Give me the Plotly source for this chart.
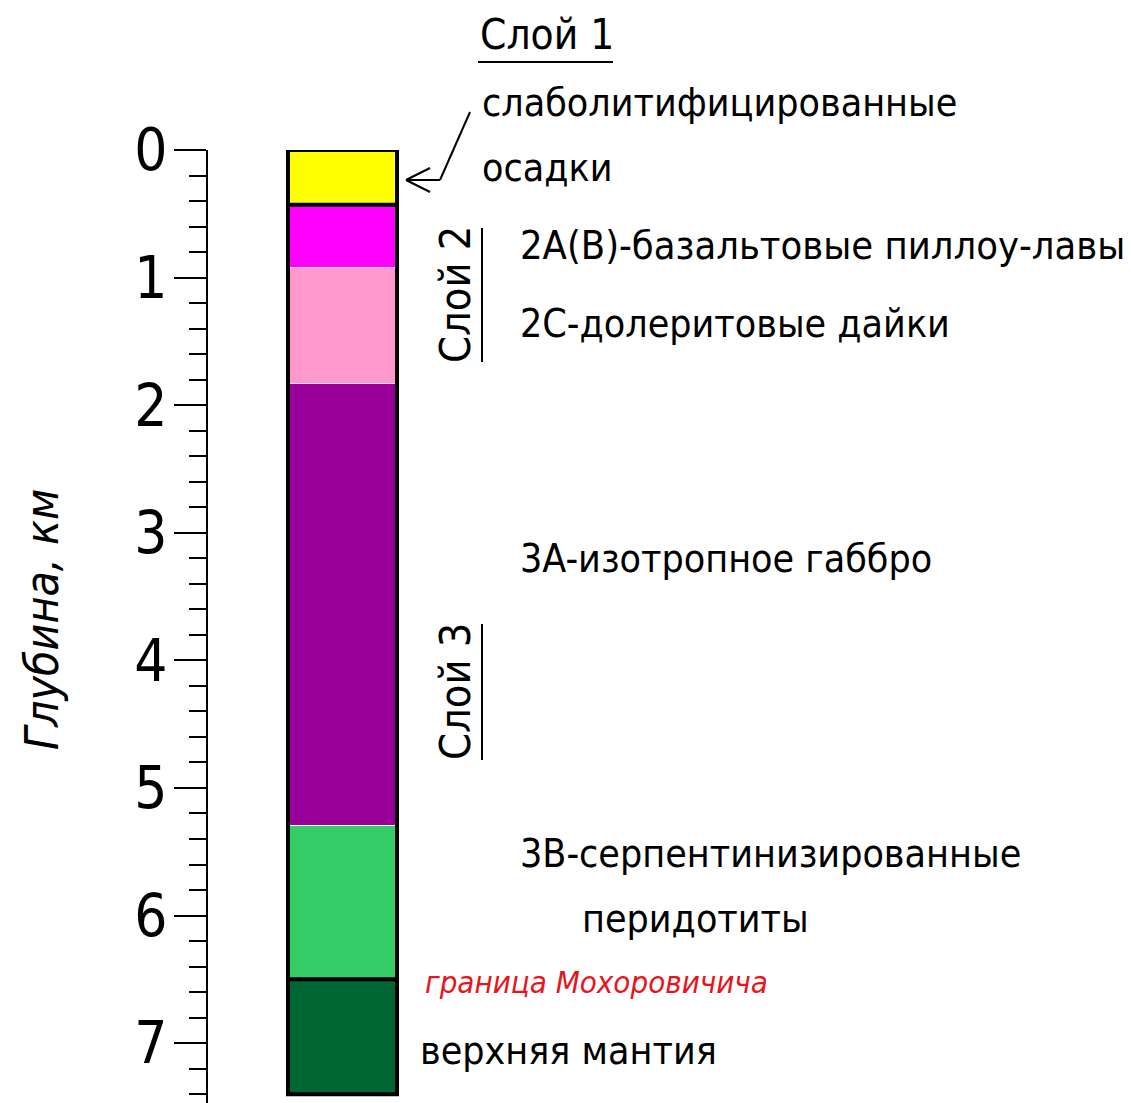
import plotly.graph_objects as go

# ---------------- data ----------------
layer_ids = ["Слой 1", "2A(B)", "2C", "3A", "3B", "мантия"]
layer_tops = [0.0, 0.43, 0.925, 1.83, 5.3, 6.5]
layer_bottoms = [0.43, 0.925, 1.83, 5.3, 6.5, 7.4]
layer_colors = ["#FFFF00", "#FF00FF", "#FF99CC", "#990099", "#33CC66", "#006633"]
black_boundaries = [0.43, 6.5]          # bottom of layer 1, Moho
tick_vals = [0, 1, 2, 3, 4, 5, 6, 7]
tick_text = ["0", "1", "2", "3", "4", "5", "6", "7"]
depth_max = 7.469

# page body has an 8px margin -> compensate
OFF = 8
W, H = 1131 - OFF, 1103 - OFF
L, T = 208 - OFF, 150 - OFF
PW, PH = W - L, H - T

FONT = "Liberation Sans Narrow, Arial Narrow, DejaVu Sans Condensed, sans-serif"


def px(x):
    return (x - OFF - L) / PW


def py(y):
    return 1 - (y - OFF - T) / PH


fig = go.Figure()

# layers as bars
for name, top, bot, col in zip(layer_ids, layer_tops, layer_bottoms, layer_colors):
    fig.add_trace(go.Bar(
        x=[0], y=[bot - top], base=[top], width=1,
        marker=dict(color=col, line=dict(color="rgba(255,255,255,0.8)", width=1)),
        name=name, showlegend=False, hoverinfo="skip",
    ))

# black boundaries
for b in black_boundaries:
    fig.add_trace(go.Scatter(x=[-0.5, 0.5], y=[b, b], mode="lines",
                             line=dict(color="black", width=4),
                             showlegend=False, hoverinfo="skip", cliponaxis=False))

# outline of column
top0, bot0 = layer_tops[0], layer_bottoms[-1]
fig.add_trace(go.Scatter(x=[-0.5, 0.5, 0.5, -0.5, -0.5],
                         y=[top0, top0, bot0, bot0, top0], mode="lines",
                         line=dict(color="black", width=4),
                         showlegend=False, hoverinfo="skip", cliponaxis=False))

fig.update_layout(
    width=W, height=H,
    margin=dict(l=L, r=0, t=T, b=0, autoexpand=False),
    paper_bgcolor="white", plot_bgcolor="white",
    bargap=0, barmode="overlay",
    xaxis=dict(range=[-1.234, 7.234], visible=False, fixedrange=True),
    yaxis=dict(
        range=[depth_max, 0], showgrid=False, zeroline=False,
        showline=True, linecolor="black", linewidth=2,
        ticks="outside", ticklen=32, tickwidth=2, tickcolor="black",
        tickvals=tick_vals, ticktext=tick_text,
        tickfont=dict(family=FONT, size=58, color="black"),
        ticklabelstandoff=-5,
        minor=dict(dtick=0.2, tick0=0, ticks="outside", ticklen=17,
                   tickwidth=2, tickcolor="black", showgrid=False),
        fixedrange=True,
    ),
)

ann = []


def add_text(text, x, y, size=39, color="black", angle=0, xanchor="left",
             italic=False):
    ann.append(dict(
        text=f"<i>{text}</i>" if italic else text,
        x=px(x), y=py(y), xref="paper", yref="paper",
        xanchor=xanchor, yanchor="middle", showarrow=False, textangle=angle,
        font=dict(family=FONT, size=size, color=color),
    ))


add_text("Слой 1", 478, 35, size=42)
add_text("слаболитифицированные", 480, 103)
add_text("осадки", 480, 168)
add_text("2A(B)-базальтовые пиллоу-лавы", 518, 245, size=39.5)
add_text("2C-долеритовые дайки", 518, 323)
add_text("3A-изотропное габбро", 518, 558)
add_text("3B-серпентинизированные", 518, 853)
add_text("перидотиты", 580, 918)
add_text("граница Мохоровичича", 423, 982, size=31, color="#E8141C", italic=True)
add_text("верхняя мантия", 418, 1050)
add_text("Слой 2", 455, 295, size=43, angle=-90, xanchor="center")
add_text("Слой 3", 455, 692, size=43, angle=-90, xanchor="center")
add_text("Глубина, км", 42, 620, size=46, angle=-90, xanchor="center", italic=True)

fig.update_layout(annotations=ann)

shapes = []


def line(x0, y0, x1, y1, w=2, color="black"):
    shapes.append(dict(type="line", xref="paper", yref="paper",
                       x0=px(x0), y0=py(y0), x1=px(x1), y1=py(y1),
                       line=dict(color=color, width=w)))


# underlines
line(478, 62, 613, 62)
line(482, 228, 482, 362)
line(482, 624, 482, 760)
# bent arrow
line(470, 112, 440, 180)
line(440, 180, 406, 180)
line(406, 180, 430, 168)
line(406, 180, 430, 192)

fig.update_layout(shapes=shapes)

fig.write_html("out.html")
